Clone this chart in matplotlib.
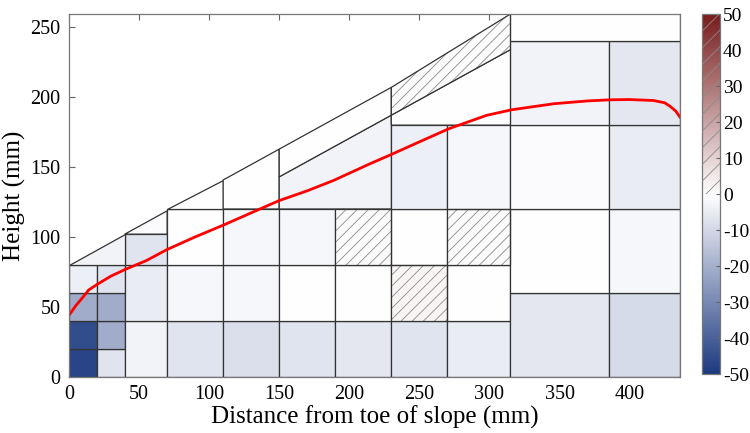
import numpy as np
import matplotlib
matplotlib.use("Agg")
import matplotlib.pyplot as plt
from matplotlib.patches import Polygon, Rectangle
from matplotlib.colors import LinearSegmentedColormap, Normalize
from matplotlib.cm import ScalarMappable

plt.rcParams["font.family"] = ["Liberation Serif", "DejaVu Serif"]
plt.rcParams["axes.unicode_minus"] = False
plt.rcParams["hatch.linewidth"] = 0.6

# slope surface and inner boundary (mm)
slope_x = [0, 230, 315]
slope_y = [80, 207, 259.5]
inner_x = [150, 315]
inner_y = [143, 234]

# rectangular cells: x0, x1, y0, y1, change (%)
rect_cells = [
    (0, 20, 0, 20, -47), (0, 20, 20, 40, -45), (0, 20, 40, 60, -21), (0, 20, 60, 80, -4),
    (20, 40, 0, 20, -7), (20, 40, 20, 40, -21), (20, 40, 40, 60, -21), (20, 40, 60, 80, -7),
    (40, 70, 0, 40, -3), (40, 70, 40, 80, -5), (40, 70, 80, 102, -7),
    (70, 110, 0, 40, -7), (70, 110, 40, 80, -2), (70, 110, 80, 120, 0),
    (110, 150, 0, 40, -8), (110, 150, 40, 80, -2), (110, 150, 80, 120, -2),
    (150, 190, 0, 40, -7), (150, 190, 40, 80, 0), (150, 190, 80, 120, -2),
    (190, 230, 0, 40, -6), (190, 230, 40, 80, 0), (190, 230, 80, 120, 1),
    (230, 270, 0, 40, -7), (230, 270, 40, 80, 2), (230, 270, 80, 120, 0), (230, 270, 120, 180, -4),
    (270, 315, 0, 40, -5), (270, 315, 40, 80, 0), (270, 315, 80, 120, 1), (270, 315, 120, 180, -2),
    (315, 385, 0, 60, -6), (315, 385, 60, 120, 0), (315, 385, 120, 180, -1), (315, 385, 180, 240, -3),
    (385, 436, 0, 60, -9), (385, 436, 60, 120, -2), (385, 436, 120, 180, -5), (385, 436, 180, 240, -6),
    (315, 436, 240, 260, 0),
]

# cells under the slope: x0, x1, bottom, top, change (%)
slope_cells = [
    (0, 40, 80, "slope", -3),
    (40, 70, 102, "slope", -1),
    (70, 110, 120, "slope", 0),
    (110, 150, 120, "slope", 0),
    (150, 230, 120, "inner", -3),
    (150, 230, "inner", "slope", 0),
    (230, 315, 180, "inner", 0),
    (230, 315, "inner", "slope", 1),
]

# phreatic line
wt_x = [0, 5, 10, 14, 20, 30, 40, 55, 70, 90, 110, 134, 150, 170, 189, 214, 230,
        250, 271, 298, 316, 346, 370, 386, 400, 417, 425, 429, 433, 436]
wt_y = [44, 51, 57, 62, 66, 72, 76.7, 83, 91, 100, 108.4, 119, 126, 133, 140.5, 152, 159,
        168, 177.4, 187, 191, 195.3, 197.3, 198.1, 198.3, 197.6, 196, 193.4, 190, 185.7]

cmap = LinearSegmentedColormap.from_list("bwr_m", ["#1d3a80", "#ffffff", "#781c1c"])
norm = Normalize(-50, 50)


def edge_y(kind, x):
    if kind == "slope":
        return np.interp(x, slope_x, slope_y)
    if kind == "inner":
        return np.interp(x, inner_x, inner_y)
    return kind


def add_cell(ax, pts, val):
    col = cmap(norm(val))
    if val > 0:
        ax.add_patch(Polygon(pts, closed=True, facecolor=col, edgecolor="#8a8a8a",
                             hatch="///", lw=0, zorder=2))
        ax.add_patch(Polygon(pts, closed=True, fill=False, edgecolor="#333333",
                             lw=0.9, zorder=3))
    else:
        ax.add_patch(Polygon(pts, closed=True, facecolor=col, edgecolor="#333333",
                             lw=0.9, zorder=2))


fig = plt.figure(figsize=(7.5, 4.33), dpi=100)
ax = fig.add_axes([0.092, 0.130, 0.8147, 0.8377])

for x0, x1, y0, y1, v in rect_cells:
    add_cell(ax, [(x0, y0), (x1, y0), (x1, y1), (x0, y1)], v)

for x0, x1, b, t, v in slope_cells:
    b0, b1 = edge_y(b, x0), edge_y(b, x1)
    t0, t1 = max(edge_y(t, x0), b0), max(edge_y(t, x1), b1)
    add_cell(ax, [(x0, b0), (x1, b1), (x1, t1), (x0, t0)], v)

ax.plot(wt_x, wt_y, color="red", lw=2, zorder=4)

ax.set_xlim(0, 436)
ax.set_ylim(0, 259.5)
ax.set_xticks([0, 50, 100, 150, 200, 250, 300, 350, 400])
ax.set_yticks([0, 50, 100, 150, 200, 250])
ax.tick_params(direction="in", top=True, right=True, length=4, labelsize=14.5,
               color="#666666", pad=6)
for s in ax.spines.values():
    s.set_color("#777777")
    s.set_linewidth(0.9)
    s.set_zorder(5)
ax.set_xlabel("Distance from toe of slope (mm)", fontsize=18, labelpad=1)
ax.set_ylabel("Height (mm)", fontsize=18, labelpad=3)

cax = fig.add_axes([0.936, 0.136, 0.024, 0.831])
cb = fig.colorbar(ScalarMappable(norm=norm, cmap=cmap), cax=cax)
cax.add_patch(Rectangle((0, 0), 1, 50, fill=False, edgecolor="#8a8a8a",
                        hatch="//", lw=0, zorder=3))
cb.set_ticks(np.arange(-50, 51, 10))
cax.tick_params(direction="in", length=3, labelsize=14, color="#666666", pad=2)
cb.outline.set_edgecolor("#777777")
cb.outline.set_linewidth(0.9)

fig.savefig("out.png", dpi=100)
